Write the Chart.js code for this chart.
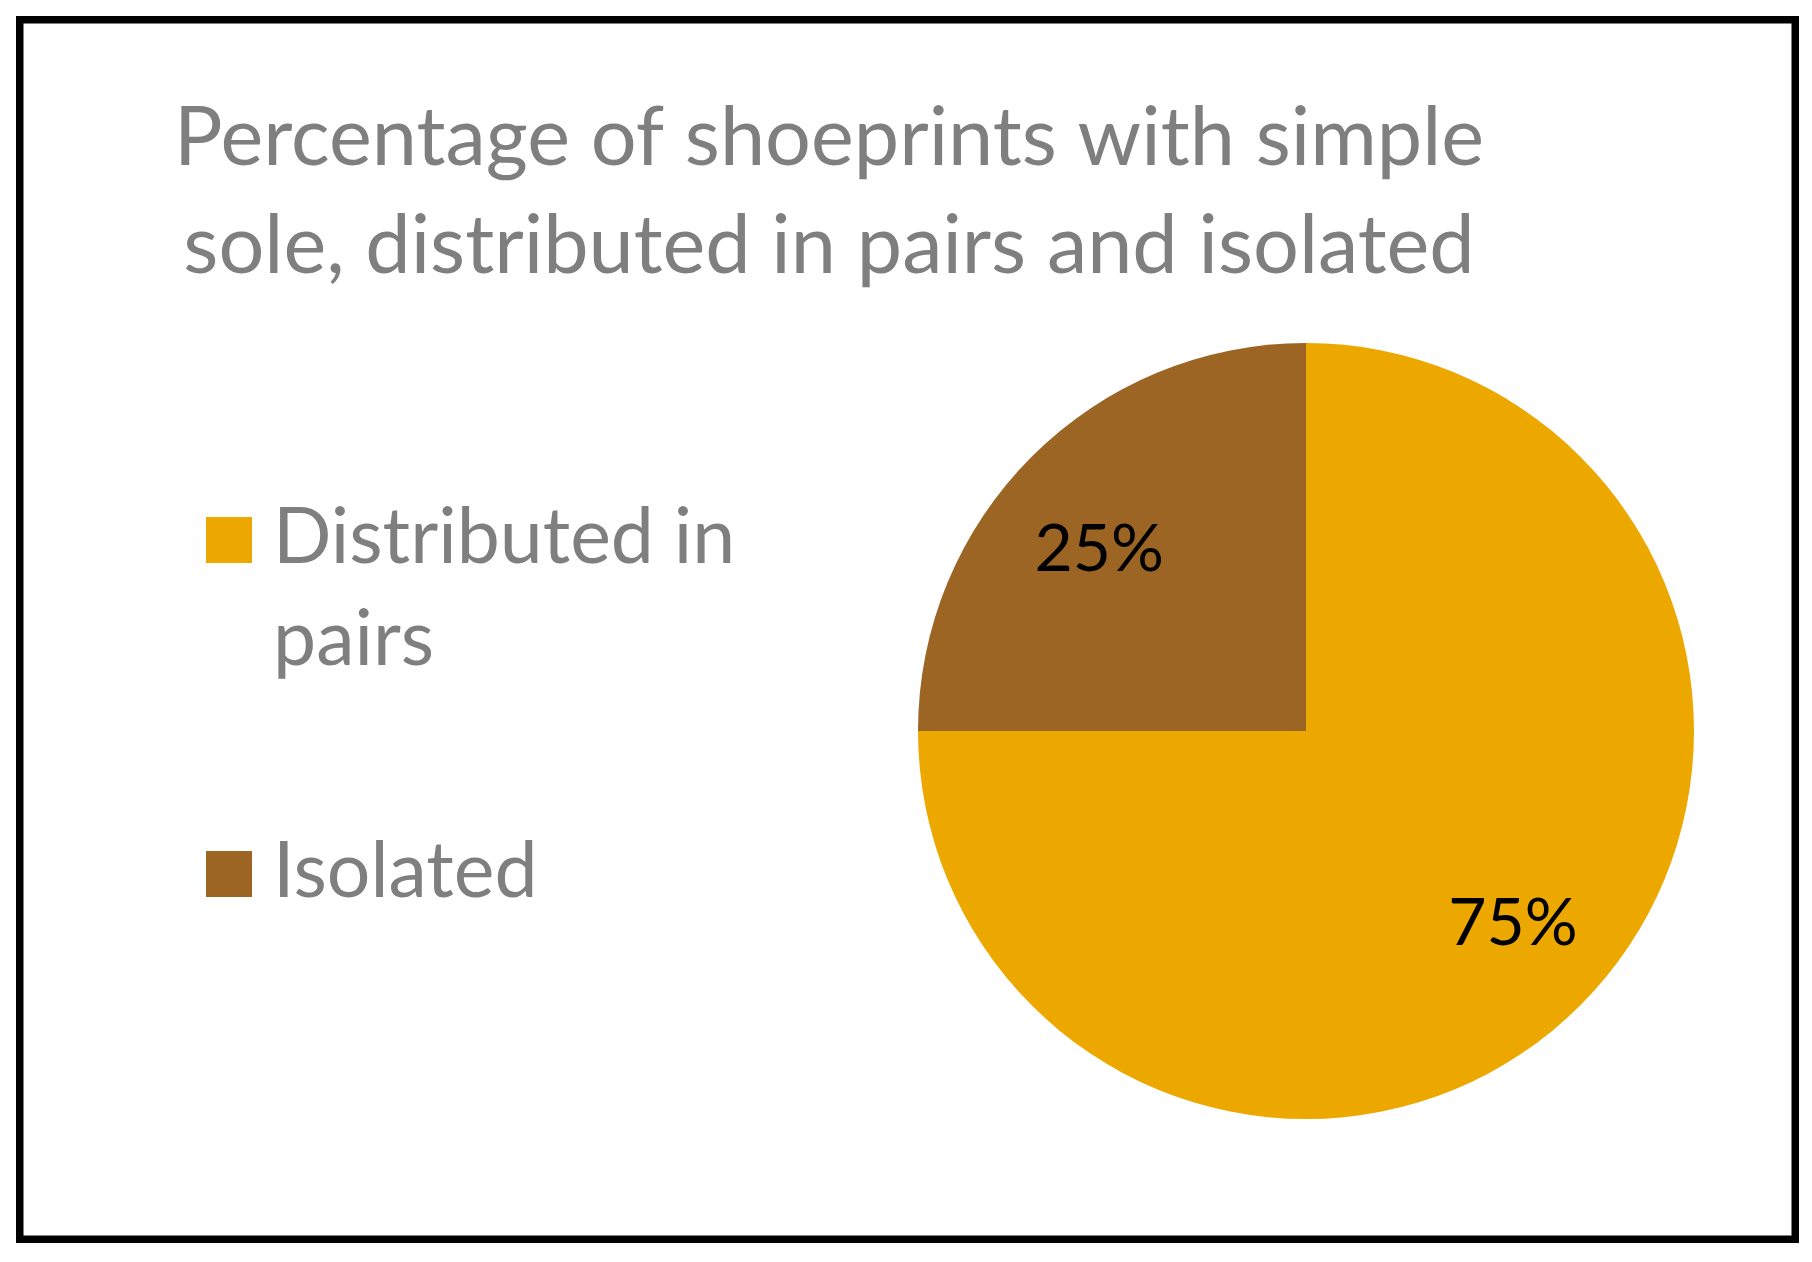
<!DOCTYPE html>
<html><head><meta charset="utf-8">
<script src="https://cdn.jsdelivr.net/npm/chart.js@4.4.0/dist/chart.umd.min.js"></script>
<style>html,body{margin:0;padding:0;background:#fff;} canvas{display:block;}</style>
</head><body>
<canvas id="c" width="1812" height="1262"></canvas>
<script>
const titleLines = ["Percentage of shoeprints with simple", "sole, distributed in pairs and isolated"];
const categories = ["Distributed in pairs", "Isolated"];
const legendLines = [["Distributed in", "pairs"], ["Isolated"]];
const values = [75, 25];
const colors = ["#EDA800", "#9C6523"];

const FONT = "Lato, 'Open Sans', sans-serif";

const decor = {
  id: 'decor',
  afterDraw(chart) {
    const ctx = chart.ctx;
    ctx.save();
    // border
    ctx.strokeStyle = '#000';
    ctx.lineWidth = 7.5;
    ctx.strokeRect(19.75, 19.75, 1775.5, 1219.5);
    // title
    ctx.fillStyle = '#7F7F7F';
    ctx.font = "81px " + FONT;
    ctx.textAlign = 'center';
    ctx.textBaseline = 'alphabetic';
    ctx.fillText(titleLines[0], 829, 165);
    ctx.fillText(titleLines[1], 829, 273);
    // legend
    ctx.textAlign = 'left';
    ctx.font = "77px " + FONT;
    const blocks = [{sq: 517, base: [563, 665]}, {sq: 851, base: [897]}];
    categories.forEach((c, i) => {
      ctx.fillStyle = colors[i];
      ctx.fillRect(206, blocks[i].sq, 46, 46);
      ctx.fillStyle = '#7F7F7F';
      legendLines[i].forEach((ln, j) => ctx.fillText(ln, 273, blocks[i].base[j]));
    });
    // data labels (placed along each slice's mid-angle)
    const meta = chart.getDatasetMeta(0);
    const total = values.reduce((a, b) => a + b, 0);
    ctx.fillStyle = '#000';
    ctx.font = "66px " + FONT;
    ctx.textAlign = 'center';
    ctx.textBaseline = 'middle';
    meta.data.forEach((arc, i) => {
      const mid = (arc.startAngle + arc.endAngle) / 2;
      const x = arc.x + Math.cos(mid) * arc.outerRadius * 0.754;
      const y = arc.y + Math.sin(mid) * arc.outerRadius * 0.682 + 6;
      ctx.fillText(Math.round(values[i] / total * 100) + '%', x, y);
    });
    ctx.restore();
  }
};

new Chart(document.getElementById('c'), {
  type: 'pie',
  data: {
    labels: categories,
    datasets: [{ data: values, backgroundColor: colors, borderWidth: 0 }]
  },
  options: {
    responsive: false,
    animation: false,
    layout: { padding: { left: 918, right: 118, top: 343, bottom: 143 } },
    plugins: { legend: { display: false }, tooltip: { enabled: false }, title: { display: false } }
  },
  plugins: [decor]
});
</script>
</body></html>
